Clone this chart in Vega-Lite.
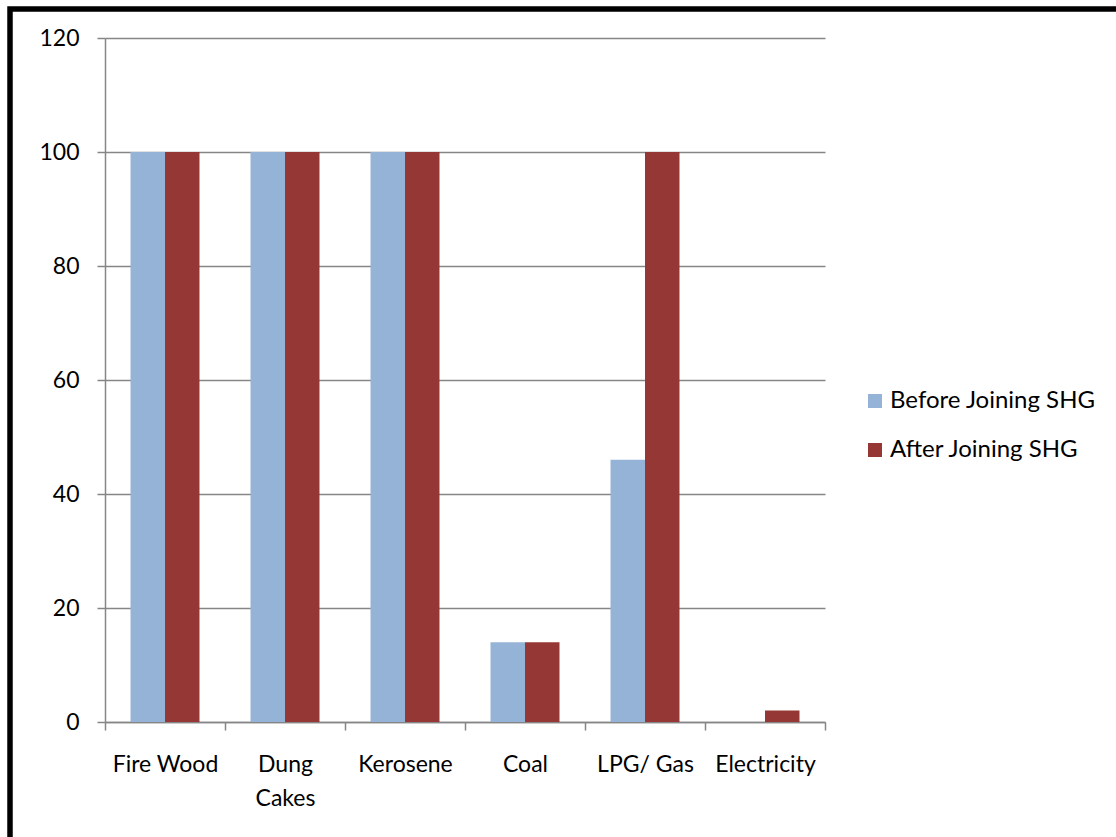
{
  "$schema": "https://vega.github.io/schema/vega-lite/v6.json",
  "autosize": {"type": "none"},
  "padding": {"left": 10, "top": 9, "right": 0, "bottom": 0},
  "width": 1106,
  "height": 828,
  "background": "white",
  "config": {
    "view": {
      "stroke": "black",
      "strokeWidth": 5.5,
      "strokeDash": [1106, 1934, 838],
      "fill": "white"
    },
    "font": "Lato",
    "axis": {
      "labelFont": "Lato",
      "labelFontSize": 23,
      "labelColor": "#000000",
      "domainColor": "#868686",
      "domainWidth": 1.5,
      "tickColor": "#868686",
      "tickWidth": 1.5,
      "tickSize": 8,
      "gridColor": "#868686",
      "gridWidth": 1.5,
      "title": null
    },
    "legend": {
      "labelFont": "Lato",
      "labelFontSize": 24,
      "labelColor": "#000000",
      "labelLimit": 0
    }
  },
  "data": {
    "values": [
      {"fuel": "Fire Wood", "period": "Before Joining SHG", "percent": 100},
      {"fuel": "Fire Wood", "period": "After Joining SHG", "percent": 100},
      {"fuel": "Dung Cakes", "period": "Before Joining SHG", "percent": 100},
      {"fuel": "Dung Cakes", "period": "After Joining SHG", "percent": 100},
      {"fuel": "Kerosene", "period": "Before Joining SHG", "percent": 100},
      {"fuel": "Kerosene", "period": "After Joining SHG", "percent": 100},
      {"fuel": "Coal", "period": "Before Joining SHG", "percent": 14},
      {"fuel": "Coal", "period": "After Joining SHG", "percent": 14},
      {"fuel": "LPG/ Gas", "period": "Before Joining SHG", "percent": 46},
      {"fuel": "LPG/ Gas", "period": "After Joining SHG", "percent": 100},
      {"fuel": "Electricity", "period": "Before Joining SHG", "percent": 0},
      {"fuel": "Electricity", "period": "After Joining SHG", "percent": 2}
    ]
  },
  "mark": {"type": "bar"},
  "encoding": {
    "x": {
      "field": "fuel",
      "type": "nominal",
      "sort": ["Fire Wood", "Dung Cakes", "Kerosene", "Coal", "LPG/ Gas", "Electricity"],
      "scale": {"range": [95, 815], "paddingInner": 0, "paddingOuter": 0},
      "axis": {
        "orient": "bottom",
        "offset": -115,
        "labelAngle": 0,
        "tickBand": "extent",
        "grid": false,
        "labelPadding": 23,
        "labelBaseline": "top",
        "labelLineHeight": 34,
        "labelExpr": "datum.label == 'Dung Cakes' ? ['Dung', 'Cakes'] : datum.label"
      }
    },
    "xOffset": {
      "field": "period",
      "type": "nominal",
      "sort": ["Before Joining SHG", "After Joining SHG"],
      "scale": {"paddingInner": 0, "paddingOuter": 0.74}
    },
    "y": {
      "field": "percent",
      "type": "quantitative",
      "scale": {"domain": [0, 120], "range": [713, 29], "nice": false, "zero": true},
      "axis": {
        "orient": "left",
        "offset": -95,
        "values": [0, 20, 40, 60, 80, 100, 120],
        "grid": true,
        "labelPadding": 18
      }
    },
    "color": {
      "field": "period",
      "type": "nominal",
      "scale": {
        "domain": ["Before Joining SHG", "After Joining SHG"],
        "range": ["#95B3D7", "#953735"]
      },
      "legend": {
        "title": null,
        "orient": "none",
        "legendX": 853,
        "legendY": 380,
        "symbolType": "square",
        "symbolSize": 196,
        "symbolStrokeWidth": 0,
        "labelOffset": 3,
        "rowPadding": 25
      }
    }
  }
}
